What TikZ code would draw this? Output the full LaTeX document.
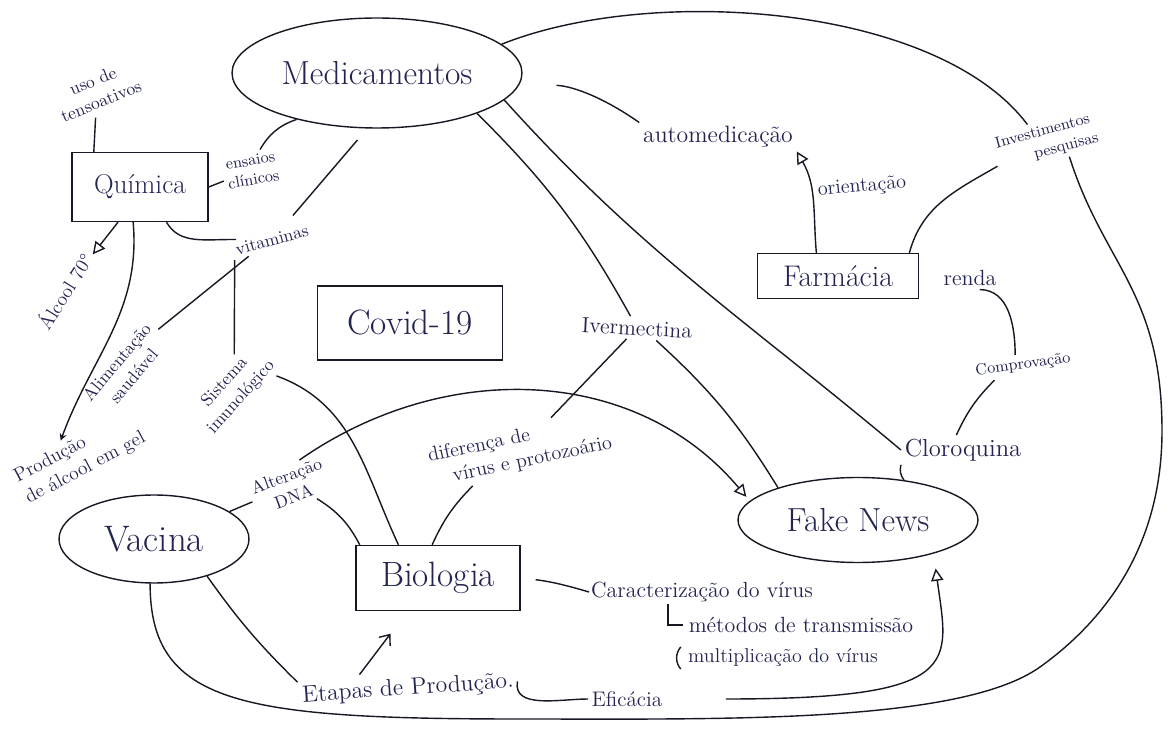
\documentclass[tikz,border=0pt]{standalone}
\usepackage{tikz}
\usetikzlibrary{shapes.geometric,arrows.meta,positioning,calc}
\definecolor{ink}{RGB}{34,36,82}
\definecolor{pen}{RGB}{24,24,36}

\begin{document}
\begin{tikzpicture}[
    x=0.02cm, y=0.02cm,
    oval/.style={ellipse, draw=pen, line width=0.8pt, text=ink, inner sep=0pt},
    box/.style={rectangle, draw=pen, line width=0.8pt, text=ink, inner sep=0pt},
    big/.style={font=\fontsize{19}{22}\selectfont},
    lbl/.style={text=ink, align=center, inner sep=2pt, font=\fontsize{10}{12.5}\selectfont},
    mid_lbl/.style={lbl, font=\fontsize{12.5}{14}\selectfont},
    link/.style={draw=pen, line width=0.8pt},
    open_arrow/.style={link, -{Triangle[open, length=7pt, width=7pt]}},
    small_arrow/.style={link, -{Stealth[length=4pt, width=4pt]}},
    barb_arrow/.style={link, -{Straight Barb[length=5pt, width=8pt]}}
]
    % --- Canvas ---
    \fill[white] (0,0) rectangle (1171,731);
    \useasboundingbox (0,0) rectangle (1171,731);

    % --- Main concepts ---
    \node[oval, big, minimum width=5.8cm, minimum height=2.2cm] (med) at (377,658) {Medicamentos};
    \node[box, font=\fontsize{15.5}{18}\selectfont, minimum width=2.72cm, minimum height=1.38cm] (quim) at (140,544) {Química};
    \node[box, font=\fontsize{20}{24}\selectfont, minimum width=3.7cm, minimum height=1.48cm] (covid) at (410,408) {Covid-19};
    \node[box, font=\fontsize{17}{20}\selectfont, minimum width=3.22cm, minimum height=0.9cm] (farm) at (838,455) {Farmácia};
    \node[oval, big, minimum width=4.8cm, minimum height=1.7cm] (fake) at (858,211) {Fake News};
    \node[oval, font=\fontsize{21}{24}\selectfont, minimum width=3.8cm, minimum height=1.76cm] (vac) at (154,192) {Vacina};
    \node[box, font=\fontsize{20}{24}\selectfont, minimum width=3.28cm, minimum height=1.3cm] (bio) at (438,153) {Biologia};

    % --- Link labels ---
    \node[lbl, rotate=22] (uso) at (97,640) {uso de\\tensoativos};
    \node[lbl, font=\fontsize{9}{11}\selectfont, rotate=10] (ensaios) at (252,561) {ensaios\\clínicos};
    \node[lbl, rotate=15] (vitam) at (272,491) {vitaminas};
    \node[lbl, font=\fontsize{11}{12}\selectfont, rotate=58] (alcool) at (64,440) {Álcool 70°};
    \node[lbl, rotate=50] (alim) at (125,362) {Alimentação\\saudável};
    \node[lbl, font=\fontsize{11}{13.5}\selectfont, rotate=28, align=left] (prod) at (80,273) {Produção\\de álcool em gel};
    \node[lbl, rotate=48] (sist) at (233,341) {Sistema\\imunológico};
    \node[lbl, rotate=20] (alt) at (290,245) {Alteração\\DNA};
    \node[lbl, font=\fontsize{11.5}{14}\selectfont, rotate=12, align=left] (dif) at (520,281) {diferença de\\\quad vírus e protozoário};
    \node[mid_lbl, rotate=-3] (iver) at (637,403) {Ivermectina};
    \node[mid_lbl, font=\fontsize{13.5}{15}\selectfont] (auto) at (718,594) {automedicação};
    \node[lbl, font=\fontsize{11.5}{13}\selectfont, rotate=5] (orient) at (862,544) {orientação};
    \node[lbl, font=\fontsize{9}{11.5}\selectfont, rotate=15, align=left] (invest) at (1047,590) {Investimentos\\\hspace*{2.2em}pesquisas};
    \node[mid_lbl] (renda) at (970,453) {renda};
    \node[lbl, font=\fontsize{9}{10}\selectfont, rotate=8] (compr) at (1023,366) {Comprovação};
    \node[lbl, font=\fontsize{14}{16}\selectfont] (cloro) at (963,281) {Cloroquina};
    \node[mid_lbl, font=\fontsize{13.5}{15}\selectfont, rotate=4] (etap) at (408,42) {Etapas de Produção.};
    \node[lbl, font=\fontsize{12}{13}\selectfont] (efic) at (627,32) {Eficácia};
    \node[mid_lbl, inner sep=1pt] (carac) at (702,139) {Caracterização do vírus};
    \node[mid_lbl, inner sep=1pt] (metod) at (801,106) {métodos de transmissão};
    \node[lbl, font=\fontsize{11.4}{13}\selectfont, inner sep=1pt] (mult) at (783,73) {multiplicação do vírus};

    % --- Waypoints of the outer loop ---
    \coordinate (loop_r) at (1162,300);
    \coordinate (loop_c) at (1040,64);
    \coordinate (loop_l) at (520,12);

    % --- Química ---
    \draw[link, shorten >=2pt] ([xshift=0.45cm]quim.north west) -- (uso);
    \draw[link] (quim.east) -- (ensaios);
    \draw[link] (ensaios) to[bend left=20] (med.210);
    \draw[link] (quim.-53) to[out=-60,in=170] (vitam);
    \draw[open_arrow] (quim.-122) -- (alcool);
    \draw[small_arrow] (quim.-101) to[out=-85,in=70] (prod.110);

    % --- vitaminas ---
    \draw[link, shorten <=0.3cm, shorten >=0.3cm] (med.-100) -- (vitam);
    \draw[link] (vitam.south west) -- (sist.40);
    \draw[link] (vitam.200) -- (alim.east);

    % --- Vacina / Biologia ---
    \draw[link] (sist.-30) to[out=-20,in=115] (bio.140);
    \draw[link] (vac.20) -- (alt);
    \draw[link] (alt) to[bend left=15] (bio.157);
    \draw[open_arrow, shorten >=3pt] (alt.50) to[out=35,in=130] (fake.170);
    \draw[link] (dif) to[bend right=10] (bio.100);
    \draw[link] (vac.-35) to[bend right=5] (etap.north west);
    \draw[barb_arrow] ([xshift=-0.95cm]etap.north) -- ([xshift=-0.95cm,yshift=-0.45cm]bio.south);
    \draw[link] (etap.east) to[out=-100,in=180] (efic.west);
    \draw[open_arrow, shorten <=1.2cm, shorten >=0.3cm] (efic.east) .. controls +(300,0) and +(15,-110) .. (fake.-24);
    \draw[link, shorten <=0.3cm] (bio.east) to[bend left=5] (carac.west);
    \draw[link] ([xshift=1.58cm]carac.south west) |- ([xshift=-2pt]metod.west);
    \draw[link] ([xshift=-3pt]mult.north west) to[bend right=40] ([xshift=-3pt]mult.south west);

    % --- Ivermectina ---
    \draw[link] (med.-22) to[bend left=8] (iver);
    \draw[link] (iver) -- (dif);
    \draw[link] (iver.-30) to[bend left=8] (fake.158);

    % --- Medicamentos ---
    \draw[link] (med.-12) to[out=-48,in=140] (cloro.west);
    \draw[link, shorten <=0.75cm] (med.-5) to[out=0,in=145] (auto.north west);
    \draw[link] (med.13) .. controls +(150,60) and +(-90,120) .. (invest.125);

    % --- Farmácia ---
    \draw[open_arrow] (farm.133) to[out=95,in=-60] (auto.south east);
    \draw[link] (farm.18) to[out=75,in=-150] (invest.192);

    % --- Outer loop ---
    \draw[link] (invest.-50) .. controls +(35,-110) and +(0,140) .. (loop_r)
        .. controls +(0,-120) and +(60,43) .. (loop_c)
        .. controls +(-80,-57) and +(200,0) .. (loop_l)
        .. controls +(-280,0) and +(0,-120) .. (vac.-95);

    % --- Cloroquina ---
    \draw[link] (renda.-50) to[out=0,in=90] (compr.120);
    \draw[link] (compr.200) to[bend right=10] (cloro.114);
    \draw[link] (cloro.south west) to[bend right=25] (fake.41);
\end{tikzpicture}
\end{document}
